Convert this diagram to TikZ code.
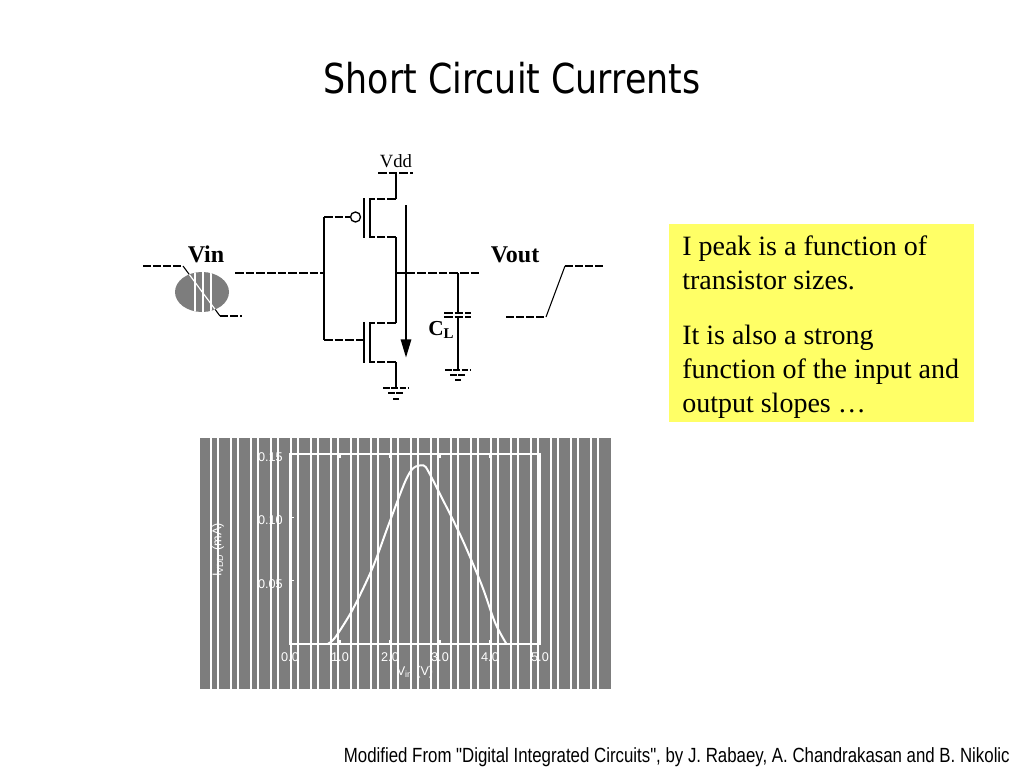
\documentclass[tikz,border=0pt]{standalone}
\usepackage{fontspec}
\setmainfont{Liberation Serif}
\newfontfamily\titlefont[FakeStretch=0.845]{DejaVu Sans}
\newfontfamily\footfont[FakeStretch=0.82]{Liberation Sans}
\newfontfamily\plotfont{Liberation Sans}
\usetikzlibrary{arrows.meta}
\usetikzlibrary{calc}
\definecolor{notebg}{RGB}{255,255,102}
\definecolor{plotbg}{RGB}{125,125,125}
\tikzstyle{wire}=[line width=1.5pt]
\tikzstyle{hwire}=[line width=1.5pt, dash pattern=on 6.5pt off 1.5pt]
\tikzstyle{sigwire}=[line width=1.3pt, dash pattern=on 6pt off 1.5pt]
\tikzstyle{slope}=[line width=0.8pt]
\tikzstyle{gndline}=[line width=1.4pt, dash pattern=on 5pt off 1.2pt]
\tikzstyle{bubble}=[circle, draw, line width=1pt, minimum size=7.5pt, inner sep=0pt]
\tikzstyle{current}=[line width=2.2pt, -{Triangle[width=7.5pt,length=14pt]}]
\tikzstyle{circtext}=[font=\bfseries\fontsize{18}{21}\selectfont, inner sep=0pt]
\tikzstyle{notetext}=[font=\fontsize{21}{25.5}\selectfont, align=left, inner sep=0pt]
\tikzstyle{plottext}=[font=\plotfont\fontsize{9.5}{11}\selectfont, text=white, inner sep=0pt]
\tikzstyle{stripe}=[white, line width=0.9pt]
\tikzstyle{plotline}=[white, line width=2.2pt]
\tikzstyle{plotcurve}=[white, line width=1.5pt]

\begin{document}
\begin{tikzpicture}[x=0.75pt,y=-0.75pt]
  \fill[white] (0,0) rectangle (1024,768);
  \node[font=\titlefont\fontsize{30.9}{36}\selectfont, inner sep=0pt, anchor=base] (title) at (512,93) {Short Circuit Currents};

  % supply, transistors and load
  \node[font=\fontsize{14}{16}\selectfont, inner sep=0pt, anchor=base] (vdd) at (396,167) {Vdd};
  \coordinate (vddl) at (378,173);
  \coordinate (vddr) at (413,173);
  \coordinate (vddc) at (396,173);
  \coordinate (ps) at (396,199);
  \coordinate (pd) at (396,237);
  \coordinate (out) at (396,273);
  \coordinate (nd) at (396,323);
  \coordinate (ns) at (396,362);
  \coordinate (gnd) at (396,388);
  \coordinate (gp) at (324,217);
  \coordinate (gn) at (324,340);
  \coordinate (in) at (324,273);
  \coordinate (inl) at (235,273);
  \coordinate (outr) at (480,273);
  \coordinate (ctop) at (458,273);
  \coordinate (cgnd) at (458,370);
  \node[bubble] (pbub) at (355.5,217) {};

  \draw[hwire] (vddl) -- (vddr);
  \draw[wire] (vddc) -- (ps);
  \draw[hwire] (ps) -- (370,199);
  \draw[wire] (370,198) -- (370,238);
  \draw[wire] (364,198) -- (364,238);
  \draw[hwire] (pd) -- (370,237);
  \draw[wire] (pd) -- (nd);
  \draw[hwire] (nd) -- (370,323);
  \draw[wire] (370,322) -- (370,363);
  \draw[wire] (364,322) -- (364,363);
  \draw[hwire] (ns) -- (370,362);
  \draw[wire] (ns) -- (gnd);
  \draw[hwire] (gp) -- (pbub.west);
  \draw[wire] (gp) -- (gn);
  \draw[hwire] (gn) -- (364,340);
  \draw[hwire] (inl) -- (in);
  \draw[hwire] (out) -- (outr);

  % load capacitor
  \draw[wire, line width=1pt] (ctop) -- (458,313);
  \draw[hwire] (444,313) -- (471,313);
  \draw[hwire] (444,317) -- (471,317);
  \draw[wire, line width=1pt] (458,317) -- (cgnd);
  \node[circtext, font=\bfseries\fontsize{16}{19}\selectfont, anchor=base west] (cl) at (428,335) {C\textsubscript{L}};

  % grounds
  \foreach \dy/\w in {0/13,5/8,11/3}
    \draw[gndline] ($(gnd)+(-\w,\dy)$) -- ($(gnd)+(\w,\dy)$);
  \foreach \dy/\w in {0/13,5/8,10/3}
    \draw[gndline] ($(cgnd)+(-\w,\dy)$) -- ($(cgnd)+(\w,\dy)$);

  % short circuit current
  \coordinate (itop) at (406,205);
  \coordinate (ibot) at (406,358);
  \draw[current] (itop) -- (ibot);

  % input slope
  \node[circtext, anchor=base] (vin) at (206,262) {Vin};
  \coordinate (vinh) at (143,266);
  \coordinate (vina) at (183,266);
  \coordinate (vinb) at (220,316);
  \coordinate (vinl) at (242,316);
  \fill[plotbg] (202,292) ellipse [x radius=27, y radius=20];
  \draw[sigwire, line width=0.9pt] (vinh) -- (vina);
  \draw[slope] (vina) -- (vinb);
  \draw[sigwire] (vinb) -- (vinl);
  \begin{scope}
    \clip (202,292) ellipse [x radius=27, y radius=20];
    \foreach \sx in {195,203,211}
      \draw[stripe] (\sx,265) -- (\sx,320);
    \draw[white, line width=1pt] (vina) -- (vinb);
  \end{scope}

  % output slope
  \node[circtext, anchor=base] (vout) at (515,262) {Vout};
  \coordinate (voutl) at (506,317);
  \coordinate (vouta) at (546,317);
  \coordinate (voutb) at (565,266);
  \coordinate (vouth) at (605,266);
  \draw[sigwire] (voutl) -- (vouta);
  \draw[slope] (vouta) -- (voutb);
  \draw[sigwire] (voutb) -- (vouth);

  % note
  \fill[notebg] (669,224) rectangle (974,422);
  \node[notetext, anchor=base west] (note1) at (682,289) {I peak is a function of\\transistor sizes.};
  \node[notetext, anchor=base west] (note2) at (682,412) {It is also a strong\\function of the input and\\output slopes \dots};

  % simulated current
  \fill[plotbg] (200,438) rectangle (611,689);
  \foreach \k in {0,...,19} {
    \draw[stripe] ({211+20*\k},438) -- ({211+20*\k},689);
    \draw[stripe] ({218+20*\k},438) -- ({218+20*\k},689);
  }
  \begin{scope}[shift={(290,644)}, x=37.5pt, y=9.5pt]
    \draw[plotline] (0,0) rectangle (5,15);
    \foreach \v in {1,...,4} {
      \draw[plotline, line width=1.2pt] (\v,0) -- (\v,0.35);
      \draw[plotline, line width=1.2pt] (\v,15) -- (\v,14.65);
    }
    \foreach \i in {5,10} {
      \draw[plotline, line width=1.2pt] (0,\i) -- (0.07,\i);
      \draw[plotline, line width=1.2pt] (5,\i) -- (4.93,\i);
    }
    \foreach \v/\t in {0/0.0,1/1.0,2/2.0,3/3.0,4/4.0,5/5.0}
      \node[plottext, anchor=base] (xt\v) at (\v,-1.4) {\t};
    \foreach \i/\t in {5/0.05,10/0.10,15/0.15}
      \node[plottext, anchor=east] (yt\i) at (-0.14,\i-0.25) {\t};
    \draw[plotcurve] plot[smooth] coordinates {(0.75,0) (0.9,0.5) (1.25,2.7) (1.65,6) (1.97,9.4) (2.3,12.8) (2.47,13.9) (2.67,14.1) (2.77,13.6) (3.03,11.6) (3.43,8.4) (3.83,4.7) (4.1,1.7) (4.33,0)};
  \end{scope}
  \node[plottext, rotate=90] (ylab) at (218,550) {I\textsubscript{VDD} (mA)};
  \node[plottext] (xlab) at (415,672) {V\textsubscript{in} (V)};

  \node[font=\footfont\fontsize{15.4}{18}\selectfont, inner sep=0pt, anchor=base east] (foot) at (1010,762) {Modified From "Digital Integrated Circuits", by J. Rabaey, A. Chandrakasan and B. Nikolic};
\end{tikzpicture}
\end{document}
